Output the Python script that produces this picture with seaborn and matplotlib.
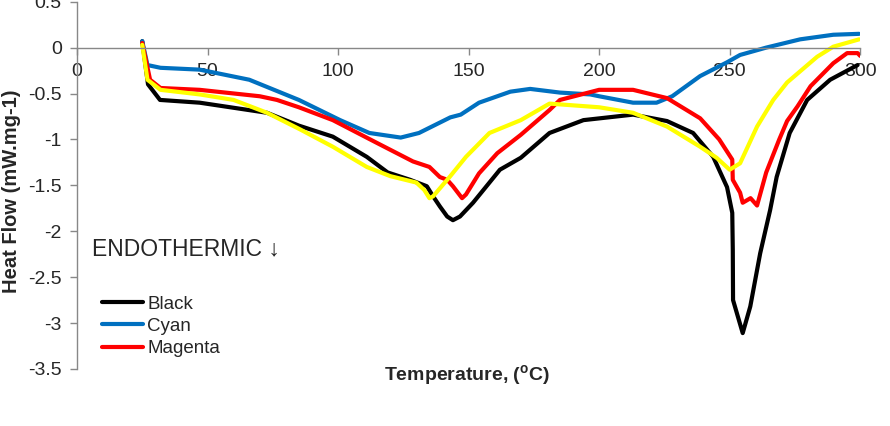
import matplotlib

matplotlib.use("Agg")
import matplotlib.pyplot as plt
import pandas as pd
import seaborn as sns

# DSC traces
BLACK_T = [25, 27.2, 31.8, 47, 72.8, 85, 98, 111, 119, 127.6, 134, 136.4, 139, 141.8, 144,
           146.7, 151.7, 162, 170, 181, 194, 213, 226, 236, 243.7, 249, 251, 251.2, 251.3,
           255, 257.9, 261.7, 265.5, 268, 273, 279.7, 288.5, 299]
BLACK_HF = [0.07, -0.4, -0.57, -0.6, -0.71, -0.85, -0.97, -1.19, -1.36, -1.44, -1.51, -1.62,
            -1.73, -1.84, -1.88, -1.84, -1.69, -1.33, -1.2, -0.93, -0.79, -0.73, -0.8, -0.93,
            -1.19, -1.52, -1.8, -2.2, -2.75, -3.11, -2.82, -2.24, -1.77, -1.41, -0.93, -0.57,
            -0.35, -0.19]

CYAN_T = [25, 27, 32, 47, 66, 85, 100.8, 112, 124, 131, 143, 147, 154, 166, 173.6, 185,
          196.6, 200, 213, 222, 228, 238.7, 249, 254, 264, 277, 289.7, 299.6]
CYAN_HF = [0.07, -0.19, -0.22, -0.24, -0.35, -0.57, -0.79, -0.93, -0.98, -0.93, -0.76, -0.73,
           -0.6, -0.48, -0.45, -0.49, -0.51, -0.53, -0.6, -0.6, -0.53, -0.31, -0.16, -0.08,
           0.0, 0.09, 0.14, 0.15]

MAGENTA_T = [25, 28, 32, 47, 70, 76.6, 85, 98, 115, 128.7, 135, 139, 141.8, 144, 147.5, 149,
             154, 161, 170, 181, 185, 200, 213, 226, 238.7, 246, 251, 251.2, 254, 255, 258,
             260.5, 264, 269, 272, 276, 281, 289.7, 295, 299, 300]
MAGENTA_HF = [0.05, -0.35, -0.44, -0.46, -0.53, -0.57, -0.65, -0.79, -1.04, -1.24, -1.3,
              -1.41, -1.44, -1.51, -1.64, -1.6, -1.37, -1.15, -0.95, -0.68, -0.57, -0.46,
              -0.46, -0.55, -0.77, -1.0, -1.22, -1.44, -1.58, -1.69, -1.64, -1.72, -1.36,
              -1.0, -0.8, -0.64, -0.42, -0.17, -0.06, -0.06, -0.09]

YELLOW_T = [25, 27, 32, 47, 60, 72.8, 85.4, 98, 111, 120, 130, 133, 135, 136.4, 143, 149,
            158, 170, 181, 200, 213, 226, 238.7, 245, 250, 254, 260.5, 266.7, 272, 283.5,
            289.7, 299.6]
YELLOW_HF = [0.03, -0.35, -0.46, -0.51, -0.57, -0.71, -0.89, -1.08, -1.3, -1.4, -1.47, -1.55,
             -1.64, -1.62, -1.4, -1.19, -0.93, -0.79, -0.61, -0.65, -0.71, -0.86, -1.08, -1.2,
             -1.33, -1.26, -0.86, -0.57, -0.38, -0.1, 0.01, 0.09]

SERIES = [
    ("Black", BLACK_T, BLACK_HF, "#000000"),
    ("Cyan", CYAN_T, CYAN_HF, "#0070C0"),
    ("Magenta", MAGENTA_T, MAGENTA_HF, "#FF0000"),
    ("Yellow", YELLOW_T, YELLOW_HF, "#FFFF00"),
]
X_TICKS = [0, 50, 100, 150, 200, 250, 300]
Y_TICKS = [0.5, 0, -0.5, -1, -1.5, -2, -2.5, -3, -3.5]
Y_TICK_LABELS = ["0.5", "0", "-0.5", "-1", "-1.5", "-2", "-2.5", "-3", "-3.5"]


def main():
    sns.set_style("white")
    plt.rcParams["font.family"] = ["Liberation Sans", "DejaVu Sans"]

    fig = plt.figure(figsize=(8.9, 4.26), dpi=100)
    ax = fig.add_axes([0.0865, 0.134, 0.88, 0.862])

    for name, temps, flows, color in SERIES:
        df = pd.DataFrame({"T": temps, "HF": flows})
        sns.lineplot(
            data=df, x="T", y="HF", color=color, linewidth=3,
            estimator=None, sort=False, ax=ax,
            label=name if name != "Yellow" else "_nolegend_",
        )

    ax.set_xlim(0, 300)
    ax.set_ylim(-3.5, 0.5)
    ax.set_xticks(X_TICKS)
    ax.set_yticks(Y_TICKS)
    ax.set_yticklabels(Y_TICK_LABELS)
    ax.tick_params(axis="both", labelsize=14, length=5, color="#888888", width=1)
    ax.tick_params(axis="x", direction="out", pad=6)
    ax.tick_params(axis="y", direction="out", pad=6)
    ax.xaxis.set_ticks_position("bottom")
    ax.yaxis.set_ticks_position("left")

    for side in ("top", "right"):
        ax.spines[side].set_visible(False)
    ax.spines["bottom"].set_position(("data", 0))
    ax.spines["bottom"].set_color("#888888")
    ax.spines["left"].set_color("#888888")
    ax.spines["bottom"].set_linewidth(1)
    ax.spines["left"].set_linewidth(1)

    ax.set_xlabel("")
    ax.set_ylabel("")
    fig.text(0.013, 0.55, "Heat Flow (mW.mg-1)", fontsize=14.5, fontweight="bold",
             rotation=90, ha="center", va="center")
    fig.text(0.525, 0.12, r"Temperature, ($\mathregular{^o}$C)", fontsize=14,
             fontweight="bold", ha="center", va="center")

    ax.text(5.7, -2.19, "ENDOTHERMIC \u2193", fontsize=16.5, ha="left", va="center")

    ax.legend(
        loc="upper left", bbox_to_anchor=(0.032, 0.2), frameon=False, fontsize=13.5,
        handlelength=2.2, handletextpad=0.2, labelspacing=0.28, borderaxespad=0,
        borderpad=0,
    )

    fig.savefig("out.png", dpi=100)
    plt.close(fig)


if __name__ == "__main__":
    main()
